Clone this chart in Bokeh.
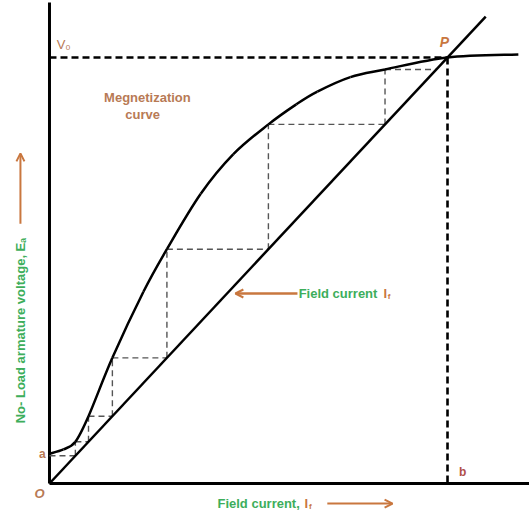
import math
from bokeh.plotting import figure
from bokeh.models import Range1d, Label, Arrow, OpenHead
from bokeh.embed import file_html
from bokeh.resources import INLINE

# ---- data (field current and voltage in % of point P) ----
field_current = [0.0, 3.5, 6.5, 9.8, 15.8, 23.6, 29.5, 38.0, 46.2, 55.0,
                 62.0, 67.3, 75.6, 84.3, 100.0, 117.8]
emf = [7.0, 8.0, 9.8, 15.8, 29.5, 45.0, 55.0, 68.0, 77.3, 84.3,
       89.0, 92.0, 95.4, 97.2, 100.0, 100.7]
step_levels = [6.5, 9.8, 15.8, 29.5, 55.0, 84.3, 97.2]
resistance_line_x = [0.0, 109.6]
resistance_line_y = [0.0, 109.6]
V0 = 100.0
b_current = 100.0
a_voltage = 7.0

GREEN = "#3dae5b"
ORANGE = "#c9773f"
BROWN = "#b87a55"
FONT = "Liberation Sans"

p = figure(width=529, height=515, output_backend="svg", toolbar_location=None,
           x_range=Range1d(-12.31, 120.60), y_range=Range1d(-7.51, 113.38),
           min_border=0, outline_line_color=None)
p.xaxis.visible = False
p.yaxis.visible = False
p.grid.visible = False

# axes drawn as thick lines
p.line([0, 0], [0, 112.9], line_color="black", line_width=3)
p.line([0, 120.6], [0, 0], line_color="black", line_width=3)

# staircase (build-up process)
x0s, y0s, x1s, y1s = [], [], [], []
prev = 0.0
for i, lv in enumerate(step_levels):
    x0s.append(prev); y0s.append(lv); x1s.append(lv); y1s.append(lv)
    if i + 1 < len(step_levels):
        x0s.append(lv); y0s.append(lv); x1s.append(lv); y1s.append(step_levels[i + 1])
    prev = lv
p.segment(x0s, y0s, x1s, y1s, line_color="#555555", line_width=1.4, line_dash="6 4")

# V0 and b dashed lines
p.line([0, b_current], [V0, V0], line_color="black", line_width=2.6, line_dash="7 4")
p.line([b_current, b_current], [V0, 0], line_color="black", line_width=2.6, line_dash="7 4")

# field resistance line
p.line(resistance_line_x, resistance_line_y, line_color="black", line_width=2.5)

# magnetization curve: smooth path through the read points (Catmull-Rom as Bezier)
n = len(field_current)
bx0, by0, bx1, by1, c0x, c0y, c1x, c1y = [], [], [], [], [], [], [], []
for i in range(n - 1):
    im, ip2 = max(i - 1, 0), min(i + 2, n - 1)
    xa, ya = field_current[i], emf[i]
    xb, yb = field_current[i + 1], emf[i + 1]
    bx0.append(xa); by0.append(ya); bx1.append(xb); by1.append(yb)
    c0x.append(xa + (xb - field_current[im]) / 6.0)
    c0y.append(ya + (yb - emf[im]) / 6.0)
    c1x.append(xb - (field_current[ip2] - xa) / 6.0)
    c1y.append(yb - (emf[ip2] - ya) / 6.0)
p.bezier(x0=bx0, y0=by0, x1=bx1, y1=by1, cx0=c0x, cy0=c0y, cx1=c1x, cy1=c1y,
         line_color="black", line_width=2.5)

def lab(x, y, text, color, size="13px", style="bold", align="center", baseline="middle", angle=0):
    p.add_layout(Label(x=x, y=y, text=text, text_color=color, text_font=FONT,
                       text_font_size=size, text_font_style=style, text_align=align,
                       text_baseline=baseline, angle=angle))

lab(1.8, 103.0, "V₀", BROWN, size="13px", style="normal", align="left")
lab(b_current - 0.8, 103.6, "P", ORANGE, size="14px", style="bold italic")
lab(24.6, 90.6, "Megnetization", BROWN, size="13px")
lab(23.4, 86.7, "curve", BROWN, size="13px")
lab(-1.8, a_voltage, "a", BROWN, size="12px")
lab(-2.5, -2.4, "O", BROWN, size="13px", style="bold italic")
lab(b_current + 3.8, 2.8, "b", "#b0504a", size="12px")

# bottom axis label
lab(42.2, -4.7, "Field current,", GREEN, align="left")
lab(64.1, -4.7, "I", ORANGE, align="left")
lab(65.2, -5.4, "f", ORANGE, size="8px", align="left")
p.add_layout(Arrow(end=OpenHead(size=8, line_color=ORANGE, line_width=2),
                   x_start=69.8, y_start=-4.7, x_end=86.2, y_end=-4.7,
                   line_color=ORANGE, line_width=2))

# mid label pointing to the resistance line
p.add_layout(Arrow(end=OpenHead(size=8, line_color=ORANGE, line_width=2),
                   x_start=62.3, y_start=44.6, x_end=46.7, y_end=44.6,
                   line_color=ORANGE, line_width=2.5))
lab(62.6, 44.6, "Field current", GREEN, align="left")
lab(83.9, 44.6, "I", ORANGE, align="left")
lab(85.0, 43.9, "f", ORANGE, size="8px", align="left")

# y axis label
lab(-7.3, 35.9, "No- Load armature voltage, Eₐ", GREEN, angle=math.pi / 2)
p.add_layout(Arrow(end=OpenHead(size=8, line_color=ORANGE, line_width=2),
                   x_start=-7.3, y_start=61.0, x_end=-7.3, y_end=77.5,
                   line_color=ORANGE, line_width=2))

open("out.html", "w").write(file_html(p, INLINE))
